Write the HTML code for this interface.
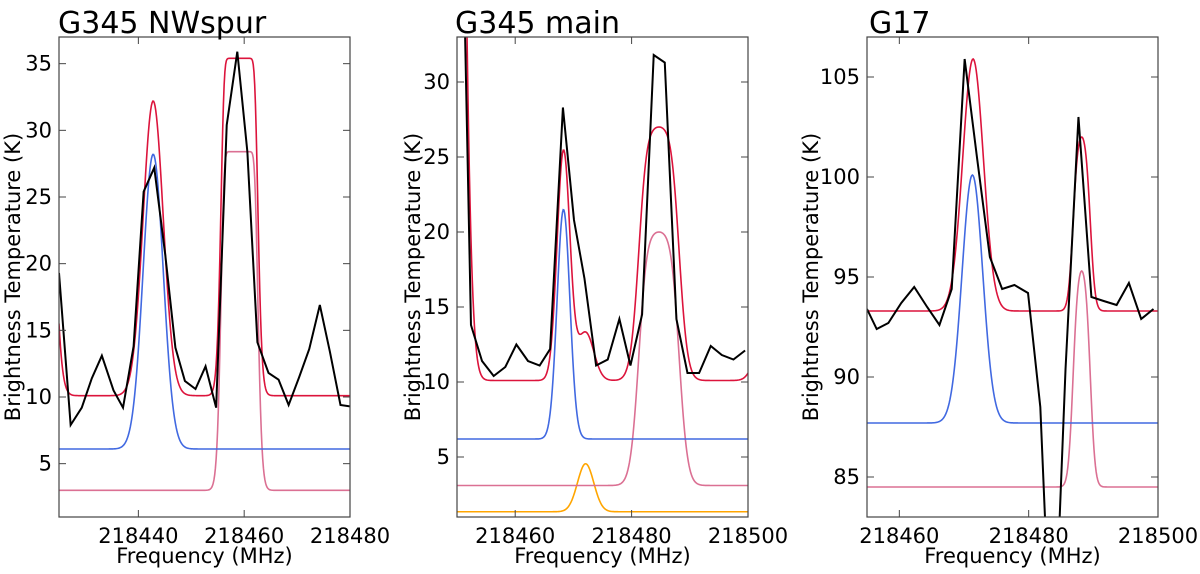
<!DOCTYPE html>
<html><head><meta charset="utf-8"><style>
html,body{margin:0;padding:0;background:#fff;overflow:hidden;width:1200px;height:574px;}
svg{display:block;font-family:"DejaVu Sans","Liberation Sans",sans-serif;}
</style></head><body>
<svg id="chart" width="1200" height="574" viewBox="0 0 1200 574" xmlns="http://www.w3.org/2000/svg"></svg>
<script>
// ---------- Panel 1: G345 NWspur ----------
const p1Freq = [218425,218427.2,218429.3,218431.2,218433.1,218435.3,218437.1,218439.1,218441,218443,218445.1,218447,218448.8,218450.8,218452.7,218454.7,218456.7,218458.7,218460.6,218462.5,218464.6,218466.5,218468.4,218470.4,218472.3,218474.3,218476.2,218478.2,218480];
const p1Temp = [19.3,7.9,9.2,11.4,13.1,10.5,9.2,13.8,25.4,27.2,20.6,13.7,11.2,10.6,12.3,9.2,30.4,35.9,28.4,14.1,11.8,11.3,9.4,11.5,13.6,16.9,13.4,9.4,9.3];
const p1XTicks = [218440,218460,218480];
const p1YTicks = [5,10,15,20,25,30,35];
// model components: [amplitude, centre, sigma, tau]
const p1Red = [[40,218422,1.5,0],[22.1,218442.8,1.9,0],[25.3,218459.1,1.3,30]];
const p1RedBase = 10.1;
const p1Blue = [[22.1,218442.8,1.9,0]];
const p1BlueBase = 6.1;
const p1Pink = [[25.4,218459.1,1.3,30]];
const p1PinkBase = 3.0;

// ---------- Panel 2: G345 main ----------
const p2Freq = [218450.4,218452.4,218454.3,218456.3,218458.3,218460.2,218462.2,218464.2,218466,218468.2,218470.1,218471.9,218473.9,218475.9,218477.9,218479.8,218481.8,218483.8,218485.7,218487.7,218489.6,218491.6,218493.6,218495.5,218497.5,218499.5];
const p2Temp = [52,13.8,11.4,10.4,11.0,12.5,11.4,11.1,12.2,28.3,20.8,16.9,11.1,11.5,14.2,11.1,14.5,31.8,31.3,14.2,10.6,10.6,12.4,11.8,11.5,12.1];
const p2XTicks = [218460,218480,218500];
const p2YTicks = [5,10,15,20,25,30];
const p2Red = [[106,218449.1,1.5,0],[15.3,218468.3,1.1,0],[3.2,218472.1,1.4,0],[16.9,218484.7,1.85,4],[3.7,218503,1.5,0]];
const p2RedBase = 10.1;
const p2Blue = [[15.3,218468.3,1.1,0]];
const p2BlueBase = 6.2;
const p2Pink = [[16.9,218484.7,1.85,4]];
const p2PinkBase = 3.1;
const p2Orange = [[3.2,218472.1,1.4,0]];
const p2OrangeBase = 1.35;

// ---------- Panel 3: G17 ----------
const p3Freq = [218455,218456.5,218458.3,218460.3,218462.3,218464.3,218466.2,218468.1,218470.1,218472,218474,218475.9,218477.8,218479.9,218481.8,218483.7,218485.7,218487.7,218489.7,218491.6,218493.6,218495.5,218497.4,218499.3];
const p3Temp = [93.4,92.4,92.7,93.7,94.5,93.5,92.6,94.4,105.9,101.0,96.0,94.4,94.6,94.2,88.5,74,90.4,103.0,94.0,93.8,93.6,94.7,92.9,93.4];
const p3XTicks = [218460,218480,218500];
const p3YTicks = [85,90,95,100,105];
const p3Red = [[12.6,218471.4,1.6,0],[8.7,218488.2,0.85,2]];
const p3RedBase = 93.3;
const p3Blue = [[12.4,218471.3,1.6,0]];
const p3BlueBase = 87.7;
const p3Pink = [[10.8,218488.2,0.85,2]];
const p3PinkBase = 84.5;

const NS = "http://www.w3.org/2000/svg";
const svg = document.getElementById('chart');
function mk(tag, attrs, parent){
  const e = document.createElementNS(NS, tag);
  for (const k in attrs) e.setAttribute(k, attrs[k]);
  (parent||svg).appendChild(e);
  return e;
}
function modelVal(x, base, comps){
  let v = base;
  for (const c of comps){
    const g = Math.exp(-((x-c[1])*(x-c[1]))/(2*c[2]*c[2]));
    if (c[3] > 0) v += c[0]*(1-Math.exp(-c[3]*g))/(1-Math.exp(-c[3]));
    else v += c[0]*g;
  }
  return v;
}
// clip a polyline (data coords) to [lo,hi] in y, returning list of segments
function clipPoly(xs, ys, lo, hi){
  const out = [];
  for (let i=0;i<xs.length-1;i++){
    let x1=xs[i], y1=ys[i], x2=xs[i+1], y2=ys[i+1];
    let t0=0, t1=1;
    const dy=y2-y1;
    if (dy===0){ if (y1<lo||y1>hi) continue; }
    else {
      let ta=(lo-y1)/dy, tb=(hi-y1)/dy;
      if (ta>tb){ const t=ta; ta=tb; tb=t; }
      t0=Math.max(t0,ta); t1=Math.min(t1,tb);
      if (t0>=t1) continue;
    }
    out.push([x1+(x2-x1)*t0, y1+dy*t0, x1+(x2-x1)*t1, y1+dy*t1]);
  }
  return out;
}
function panel(cfg){
  const L=cfg.left, R=cfg.right, T=37, B=517;
  const sx = v => L + (v-cfg.xmin)/(cfg.xmax-cfg.xmin)*(R-L);
  const sy = v => B - (v-cfg.ymin)/(cfg.ymax-cfg.ymin)*(B-T);
  const g = mk('g', {});
  
  
  const clipId = 'clip-'+cfg.name;
  const cp = mk('clipPath', {id: clipId}, g);
  mk('rect', {x:L, y:T, width:R-L, height:B-T}, cp);
  const plot = mk('g', {'clip-path':'url(#'+clipId+')'}, g);
  
  
  function modelLine(base, comps, color, name){
    const xs=[], ys=[];
    const n=400;
    for (let i=0;i<=n;i++){
      const x = cfg.xmin + (cfg.xmax-cfg.xmin)*i/n;
      xs.push(x); ys.push(modelVal(x, base, comps));
    }
    const segs = clipPoly(xs, ys, cfg.ymin, cfg.ymax);
    let d='', lx=null, ly=null;
    for (const s of segs){
      if (lx===null || Math.abs(s[0]-lx)>1e-9 || Math.abs(s[1]-ly)>1e-9) d+='M'+sx(s[0]).toFixed(2)+','+sy(s[1]).toFixed(2);
      d+='L'+sx(s[2]).toFixed(2)+','+sy(s[3]).toFixed(2);
      lx=s[2]; ly=s[3];
    }
    const p = mk('path', {d:d, fill:'none', stroke:color, 'stroke-width':1.6}, plot);
    
    
  }
  for (const m of cfg.models) modelLine(m.base, m.comps, m.color, m.name);
  const segs = clipPoly(cfg.freq, cfg.temp, cfg.ymin, cfg.ymax);
  let d='', lx=null, ly=null;
  for (const s of segs){
    if (lx===null || Math.abs(s[0]-lx)>1e-9 || Math.abs(s[1]-ly)>1e-9) d+='M'+sx(s[0]).toFixed(2)+','+sy(s[1]).toFixed(2);
    d+='L'+sx(s[2]).toFixed(2)+','+sy(s[3]).toFixed(2);
    lx=s[2]; ly=s[3];
  }
  const obs = mk('path', {d:d, fill:'none', stroke:'#000', 'stroke-width':2, 'stroke-linejoin':'miter'}, plot);
  
  
  const fr = mk('rect', {x:L, y:T, width:R-L, height:B-T, fill:'none', stroke:'#444', 'stroke-width':1.2}, g);
  
  
  cfg.yticks.forEach(v=>{
    const y = sy(v);
    mk('line', {x1:L, x2:L+7, y1:y, y2:y, stroke:'#444', 'stroke-width':1}, g);
    mk('line', {x1:R-7, x2:R, y1:y, y2:y, stroke:'#444', 'stroke-width':1}, g);
    const t = mk('text', {x:L-7, y:y+7, 'text-anchor':'end', 'font-size':21, fill:'#000'}, g);
    t.textContent = v;
    
    
  });
  cfg.xticks.forEach(v=>{
    const x = sx(v);
    mk('line', {x1:x, x2:x, y1:B, y2:B-7, stroke:'#444', 'stroke-width':1}, g);
    mk('line', {x1:x, x2:x, y1:T, y2:T+7, stroke:'#444', 'stroke-width':1}, g);
    const t = mk('text', {x:x, y:543, 'text-anchor':'middle', 'font-size':21, fill:'#000'}, g);
    t.textContent = v;
    
    
  });
  const title = mk('text', {x:cfg.titleX, y:33, 'font-size':30, fill:'#000'}, g);
  title.textContent = cfg.title;
  
  
  const xl = mk('text', {x:(L+R)/2, y:563, 'text-anchor':'middle', 'font-size':21, fill:'#000'}, g);
  xl.textContent = 'Frequency (MHz)';
  
  
  const yl = mk('text', {x:0, y:0, 'text-anchor':'middle', 'font-size':21, fill:'#000', transform:'translate('+cfg.ylabX+',277) rotate(-90)'}, g);
  yl.textContent = 'Brightness Temperature (K)';
  
  
}
panel({name:'panel-g345-nwspur', title:'G345 NWspur', titleX:58, ylabX:20, left:59, right:350, xmin:218425, xmax:218480, ymin:1, ymax:37,
  freq:p1Freq, temp:p1Temp, xticks:p1XTicks, yticks:p1YTicks,
  models:[{base:p1PinkBase,comps:p1Pink,color:'#db7093',name:'pink-component'},
          {base:p1BlueBase,comps:p1Blue,color:'#4169e1',name:'blue-component'},
          {base:p1RedBase,comps:p1Red,color:'#dc143c',name:'total-model'}]});
panel({name:'panel-g345-main', title:'G345 main', titleX:455, ylabX:420, left:457, right:748, xmin:218450, xmax:218500, ymin:1, ymax:33,
  freq:p2Freq, temp:p2Temp, xticks:p2XTicks, yticks:p2YTicks,
  models:[{base:p2OrangeBase,comps:p2Orange,color:'#ffa500',name:'orange-component'},
          {base:p2PinkBase,comps:p2Pink,color:'#db7093',name:'pink-component'},
          {base:p2BlueBase,comps:p2Blue,color:'#4169e1',name:'blue-component'},
          {base:p2RedBase,comps:p2Red,color:'#dc143c',name:'total-model'}]});
panel({name:'panel-g17', title:'G17', titleX:869, ylabX:818, left:867, right:1158, xmin:218455, xmax:218500, ymin:83, ymax:107,
  freq:p3Freq, temp:p3Temp, xticks:p3XTicks, yticks:p3YTicks,
  models:[{base:p3PinkBase,comps:p3Pink,color:'#db7093',name:'pink-component'},
          {base:p3BlueBase,comps:p3Blue,color:'#4169e1',name:'blue-component'},
          {base:p3RedBase,comps:p3Red,color:'#dc143c',name:'total-model'}]});
</script>
</body></html>
